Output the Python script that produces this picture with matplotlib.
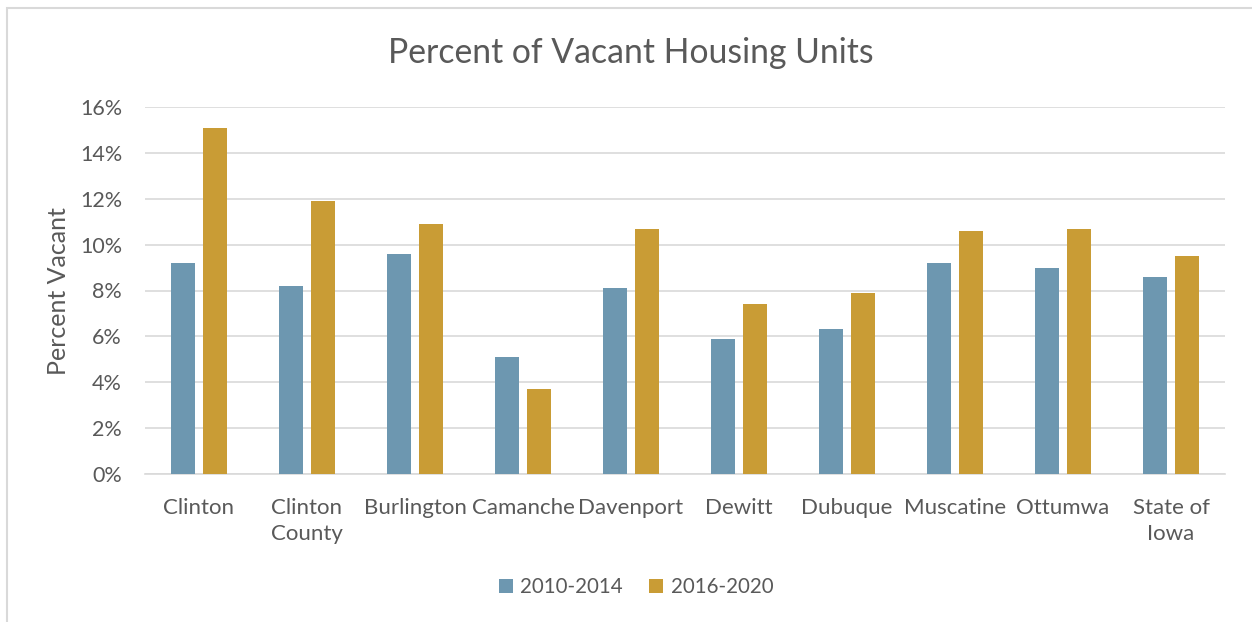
import matplotlib
matplotlib.use("Agg")
import matplotlib.pyplot as plt
import numpy as np
from matplotlib.patches import Rectangle

categories = ["Clinton", "Clinton\nCounty", "Burlington", "Camanche", "Davenport",
              "Dewitt", "Dubuque", "Muscatine", "Ottumwa", "State of\nIowa"]
series_names = ["2010-2014", "2016-2020"]
vals_2010_2014 = [9.2, 8.2, 9.6, 5.1, 8.1, 5.9, 6.3, 9.2, 9.0, 8.6]
vals_2016_2020 = [15.1, 11.9, 10.9, 3.7, 10.7, 7.4, 7.9, 10.6, 10.7, 9.5]
yticks = [0, 2, 4, 6, 8, 10, 12, 14, 16]

plt.rcParams['font.family'] = ['Lato', 'DejaVu Sans']
text_color = '#595959'
c_blue = '#6D97B0'
c_gold = '#C99C35'

fig = plt.figure(figsize=(12.52, 6.22), dpi=100)
W, H = 1252, 622
# chart border
fig.patches.append(Rectangle((7 / W, -0.1), 1.2, 1 - 7.5 / H + 0.1, transform=fig.transFigure,
                             fill=False, edgecolor='#D9D9D9', linewidth=1.5))

ax = fig.add_axes([145 / W, 1 - 474 / H, (1225 - 145) / W, (474 - 107) / H])
x = np.arange(len(categories))
bw = 0.222
off = 0.148
ax.bar(x - off, vals_2010_2014, width=bw, color=c_blue, label=series_names[0], zorder=3)
ax.bar(x + off, vals_2016_2020, width=bw, color=c_gold, label=series_names[1], zorder=3)

ax.set_xlim(-0.5, len(categories) - 0.5)
ax.set_ylim(0, 16)
ax.set_yticks(yticks)
ax.set_yticklabels([f"{t}%" for t in yticks], fontsize=15.5, color=text_color)
ax.set_xticks(x)
ax.set_xticklabels(categories, fontsize=16, color=text_color, linespacing=1.4, va='top')
ax.tick_params(axis='both', length=0)
ax.tick_params(axis='x', pad=17)
ax.tick_params(axis='y', pad=16.5)
ax.grid(axis='y', color='#D9D9D9', linewidth=1.2, zorder=0)
for s in ['top', 'right', 'left']:
    ax.spines[s].set_visible(False)
ax.spines['bottom'].set_color('#D9D9D9')
ax.spines['bottom'].set_linewidth(1.2)

fig.text(58 / W, 1 - 291 / H, "Percent Vacant", rotation=90, ha='center', va='center',
         fontsize=18, color=text_color)

fig.text(631 / W, 1 - 53 / H, "Percent of Vacant Housing Units", ha='center', va='center',
         fontsize=24.3, color=text_color)

leg = fig.legend(loc='center', bbox_to_anchor=(636 / W, 1 - 587 / H), ncol=2, frameon=False,
                 fontsize=14.8, handlelength=0.68, handleheight=0.68, columnspacing=1.3,
                 handletextpad=0.35)
for t in leg.get_texts():
    t.set_color(text_color)

fig.savefig("out.png", dpi=100)
